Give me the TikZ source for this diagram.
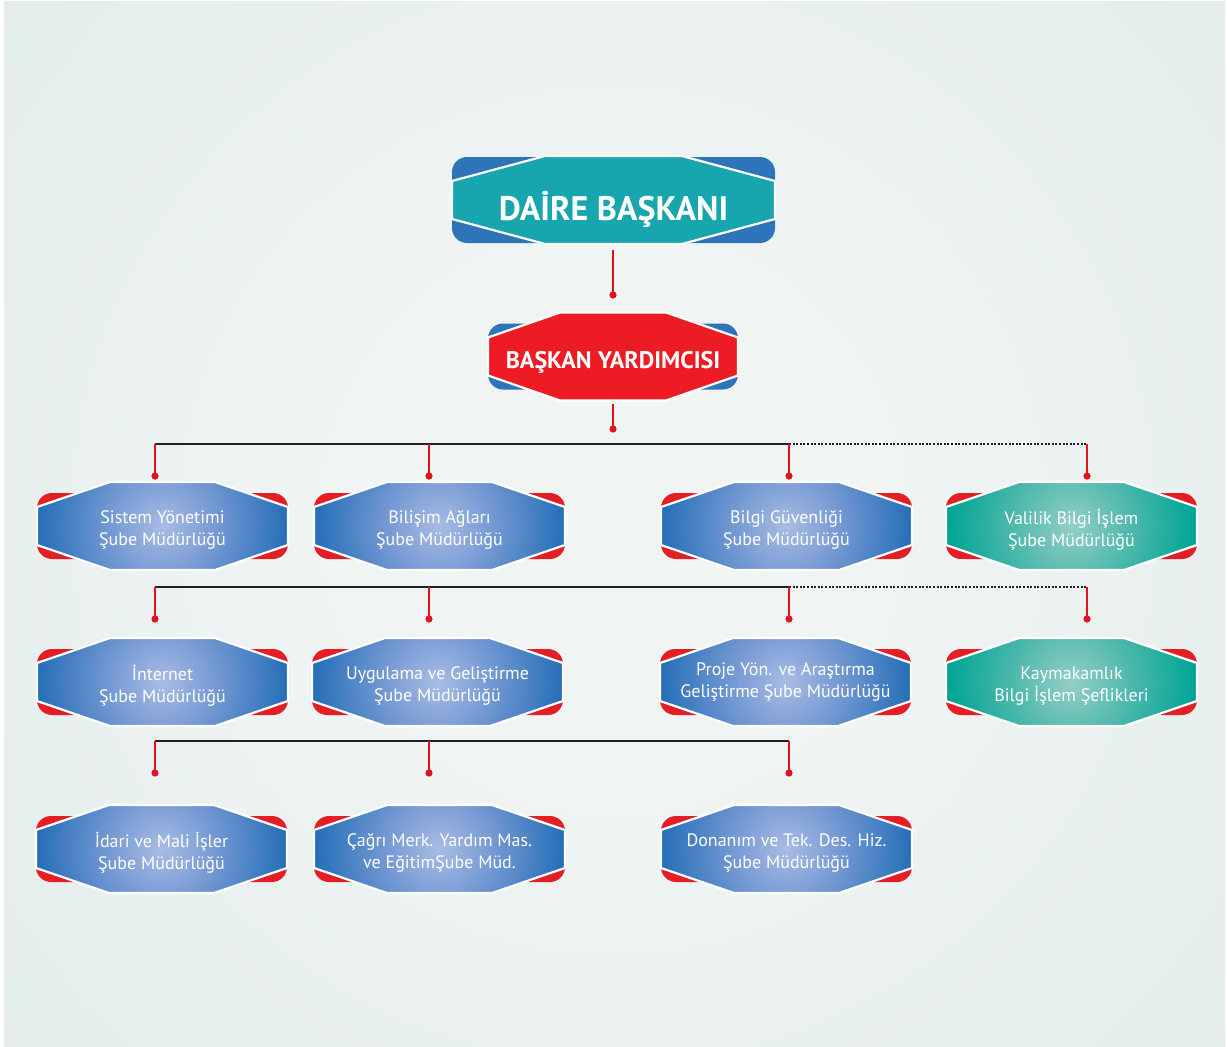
\documentclass[tikz,border=0pt]{standalone}
\usepackage{fontspec}
\setmainfont{PT Sans}
\usetikzlibrary{calc}

\definecolor{bgedge}{HTML}{E3EDEB}
\definecolor{bgmid}{HTML}{F0F5F4}
\definecolor{cornerblue}{HTML}{2E74B9}
\definecolor{cornerred}{HTML}{E31E25}
\definecolor{headteal}{HTML}{17A6AD}
\definecolor{headred}{HTML}{ED1C24}
\definecolor{boxblue}{HTML}{2870B8}
\definecolor{boxmid}{HTML}{7A9CD5}
\definecolor{boxlight}{HTML}{A8BCE4}
\definecolor{boxteal}{HTML}{00A594}
\definecolor{tealmid}{HTML}{5BBCB0}
\definecolor{teallight}{HTML}{94CFC7}
\definecolor{linered}{HTML}{E3101E}
\definecolor{lineblack}{HTML}{231F20}

\pgfdeclareradialshading{blueglow}{\pgfpoint{0bp}{0bp}}{color(0bp)=(boxlight); color(9bp)=(boxmid); color(23bp)=(boxblue); color(50bp)=(boxblue)}
\pgfdeclareradialshading{tealglow}{\pgfpoint{0bp}{0bp}}{color(0bp)=(teallight); color(9bp)=(tealmid); color(23bp)=(boxteal); color(50bp)=(boxteal)}
\pgfdeclareradialshading{bgglow}{\pgfpoint{0bp}{0bp}}{color(0bp)=(bgmid); color(8bp)=(bgmid); color(25bp)=(bgedge); color(50bp)=(bgedge)}

\begin{document}
\begin{tikzpicture}[x=1pt, y=-1pt,
    unittext/.style={text=white, align=center, inner sep=0pt, font=\fontsize{18}{22.5}\selectfont, yshift=-4pt},
    headtext/.style={text=white, inner sep=0pt, anchor=base, font=\bfseries\fontsize{34}{40}\selectfont},
    subtext/.style={text=white, inner sep=0pt, anchor=base, font=\bfseries\fontsize{24}{28}\selectfont}]
\useasboundingbox (0,0) rectangle (1227,1047);

% background
\begin{scope}
    \clip (4,1) rectangle (1225,1047);
    \shade[shading=bgglow] (613,520) circle[radius=820];
\end{scope}

% line ends and dots
\coordinate (t1) at (613,250);
\coordinate (p1) at (613,295);
\coordinate (t2) at (613,404);
\coordinate (p2) at (613,429);

\coordinate (b1a) at (155,444);
\coordinate (b1b) at (429,444);
\coordinate (b1c) at (789,444);
\coordinate (b1d) at (1087,444);
\coordinate (d1a) at (155,476);
\coordinate (d1b) at (429,476);
\coordinate (d1c) at (789,476);
\coordinate (d1d) at (1087,476);

\coordinate (b2a) at (155,587);
\coordinate (b2b) at (429,587);
\coordinate (b2c) at (789,587);
\coordinate (b2d) at (1087,587);
\coordinate (d2a) at (155,619);
\coordinate (d2b) at (429,619);
\coordinate (d2c) at (789,619);
\coordinate (d2d) at (1087,619);

\coordinate (b3a) at (155,741);
\coordinate (b3b) at (429,741);
\coordinate (b3c) at (789,741);
\coordinate (d3a) at (155,773);
\coordinate (d3b) at (429,773);
\coordinate (d3c) at (789,773);

% name, centre, half width, top inset, back half height, corner colour, fill, text style, text
\newcommand{\octbox}[9]{
    \begin{scope}[shift={(#2)}]
        \fill[#6, rounded corners=15pt] (-#3,-#5) rectangle (#3,#5);
        \begin{scope}
            \clip (-#3+#4,-44) -- (#3-#4,-44) -- (#3,-19) -- (#3,19) -- (#3-#4,44) -- (-#3+#4,44) -- (-#3,19) -- (-#3,-19) -- cycle;
            \path[#7] (0,0) circle[radius=#3+8];
        \end{scope}
        \draw[white, line width=2.2pt] (-#3+#4,-44) -- (#3-#4,-44) -- (#3,-19) -- (#3,19) -- (#3-#4,44) -- (-#3+#4,44) -- (-#3,19) -- (-#3,-19) -- cycle;
    \end{scope}
    \node[#8] (#1) at (#2) {#9};
}

\newcommand{\stem}[2]{
    \draw[linered, line width=1.3pt] (#1)--(#2);
    \fill[linered] (#2) circle[radius=3.6];
}

\newcommand{\joinbar}[2]{
    \draw[lineblack, line width=1.2pt] (#1)--(#2);
}

\newcommand{\dotjoin}[2]{
    \draw[lineblack, line width=1.1pt, dash pattern=on 2pt off 1.6pt] (#1)--(#2);
}

% connectors
\stem{t1}{p1}
\stem{t2}{p2}
\joinbar{b1a}{b1c} \dotjoin{b1c}{b1d}
\stem{b1a}{d1a} \stem{b1b}{d1b} \stem{b1c}{d1c} \stem{b1d}{d1d}
\joinbar{b2a}{b2c} \dotjoin{b2c}{b2d}
\stem{b2a}{d2a} \stem{b2b}{d2b} \stem{b2c}{d2c} \stem{b2d}{d2d}
\joinbar{b3a}{b3c}
\stem{b3a}{d3a} \stem{b3b}{d3b} \stem{b3c}{d3c}

% boxes
\octbox{daire}{613.5,200}{161.5}{93}{43}{cornerblue}{fill=headteal}{headtext, yshift=-20pt}{DAİRE BAŞKANI}
\octbox{yard}{613,356.5}{125}{72}{33}{cornerblue}{fill=headred}{subtext, yshift=-11.5pt}{BAŞKAN YARDIMCISI}

\octbox{sy}{162.5,526}{125.5}{73}{33}{cornerred}{shade, shading=blueglow}{unittext}{Sistem Yönetimi\\Şube Müdürlüğü}
\octbox{ba}{439.5,526}{125.5}{73}{33}{cornerred}{shade, shading=blueglow}{unittext}{Bilişim Ağları\\Şube Müdürlüğü}
\octbox{bg}{786.5,526}{125.5}{73}{33}{cornerred}{shade, shading=blueglow}{unittext}{Bilgi Güvenliği\\Şube Müdürlüğü}
\octbox{vb}{1071.5,526}{125.5}{73}{33}{cornerred}{shade, shading=tealglow}{unittext}{Valilik Bilgi İşlem\\Şube Müdürlüğü}

\octbox{in}{162.5,682}{125.5}{73}{33}{cornerred}{shade, shading=blueglow}{unittext}{İnternet\\Şube Müdürlüğü}
\octbox{ug}{437.5,682}{125.5}{73}{33}{cornerred}{shade, shading=blueglow}{unittext}{Uygulama ve Geliştirme\\Şube Müdürlüğü}
\octbox{py}{785.5,682}{125.5}{73}{33}{cornerred}{shade, shading=blueglow}{unittext, yshift=4pt}{Proje Yön. ve Araştırma\\Geliştirme Şube Müdürlüğü}
\octbox{kb}{1071.5,682}{125.5}{73}{33}{cornerred}{shade, shading=tealglow}{unittext}{Kaymakamlık\\Bilgi İşlem Şeflikleri}

\octbox{im}{161.5,849}{125.5}{73}{33}{cornerred}{shade, shading=blueglow}{unittext}{İdari ve Mali İşler\\Şube Müdürlüğü}
\octbox{cm}{439.5,849}{125.5}{73}{33}{cornerred}{shade, shading=blueglow}{unittext}{Çağrı Merk. Yardım Mas.\\ve EğitimŞube Müd.}
\octbox{dt}{786.5,849}{125.5}{73}{33}{cornerred}{shade, shading=blueglow}{unittext}{Donanım ve Tek. Des. Hiz.\\Şube Müdürlüğü}
\end{tikzpicture}
\end{document}
